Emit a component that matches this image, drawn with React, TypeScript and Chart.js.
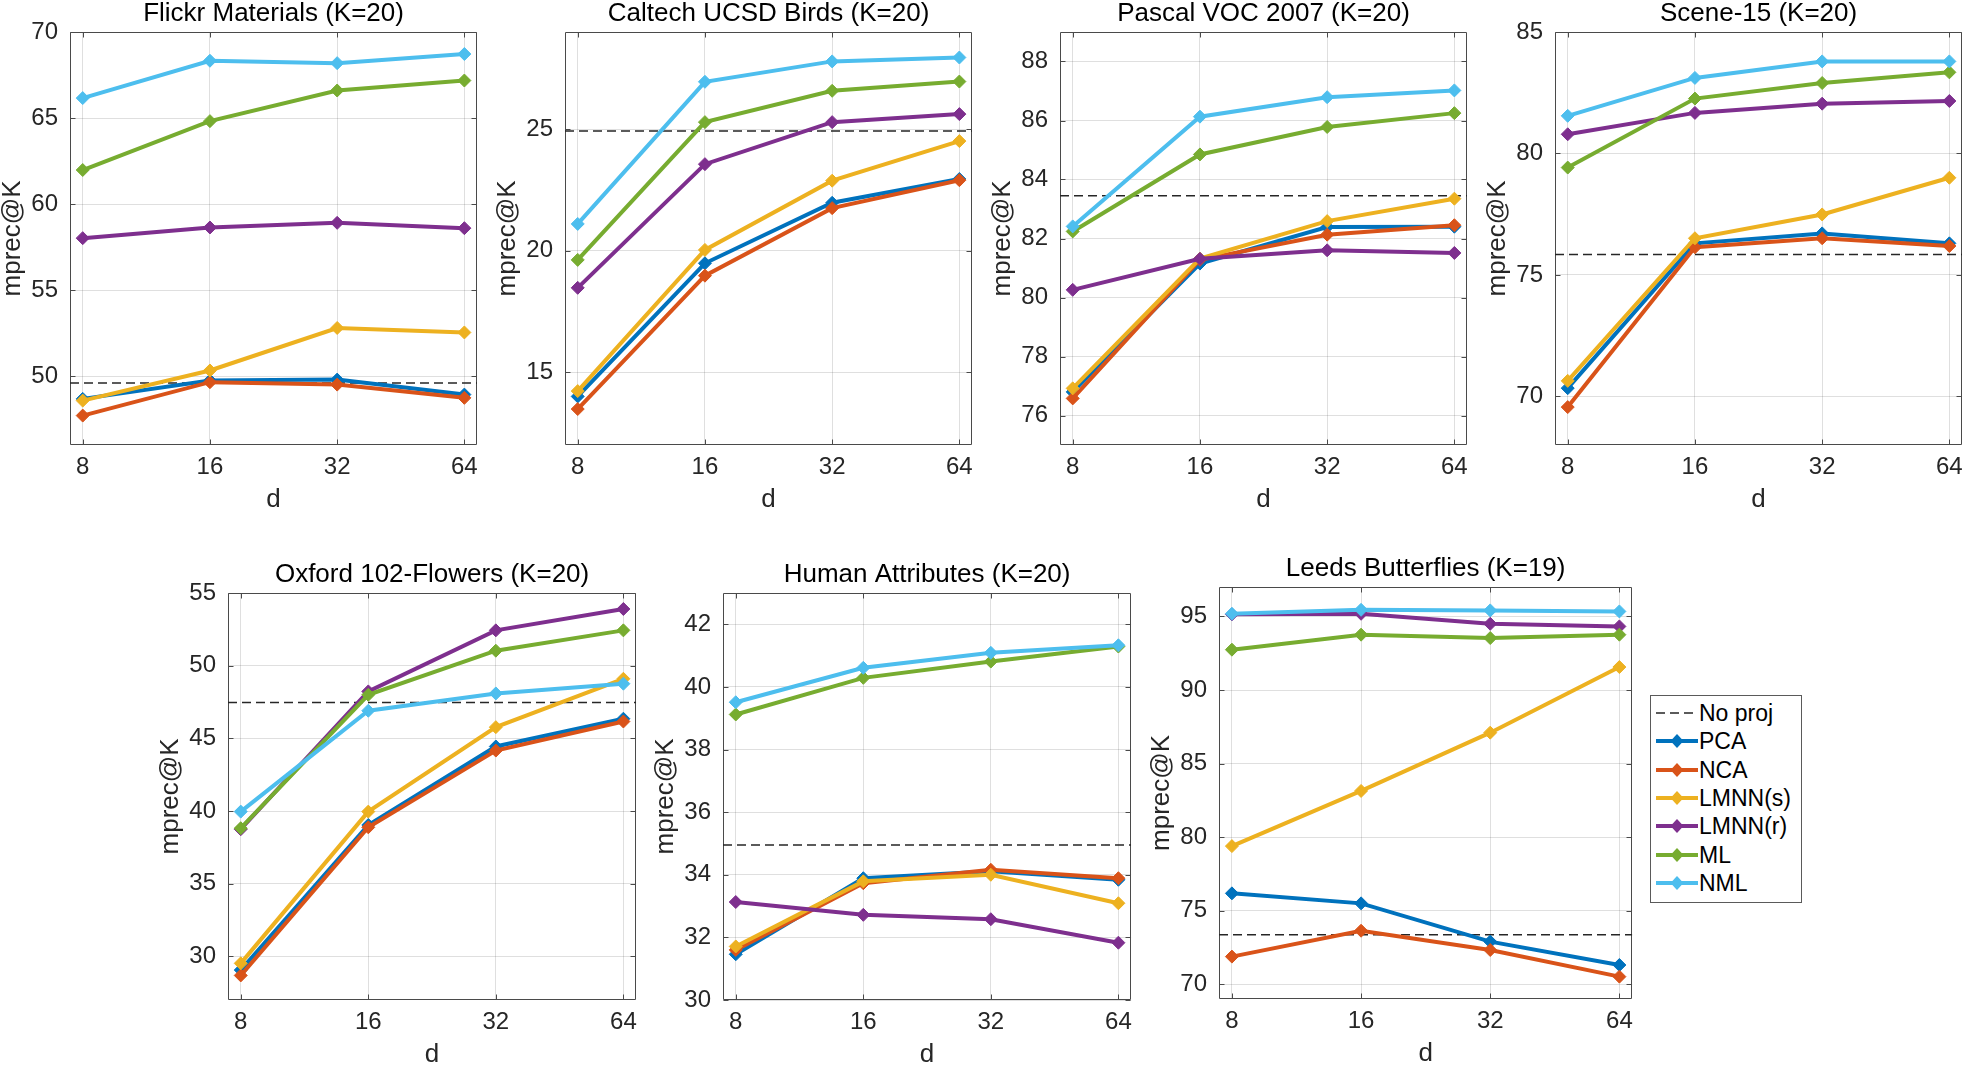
import React, { useEffect, useRef } from 'react';
import { Chart, registerables } from 'chart.js';

Chart.register(...registerables);

// ---------- data ----------
const dValues = [8, 16, 32, 64];
const methodNames = ['PCA', 'NCA', 'LMNN(s)', 'LMNN(r)', 'ML', 'NML'];
const noProjName = 'No proj';
const xLabel = 'd';
const yLabel = 'mprec@K';

// Flickr Materials
const flickrTicks = [50, 55, 60, 65, 70];
const flickrNoProj = 49.6;
const flickrPCA = [48.68, 49.75, 49.8, 48.93];
const flickrNCA = [47.71, 49.65, 49.51, 48.74];
const flickrLMNNs = [48.58, 50.33, 52.8, 52.54];
const flickrLMNNr = [58.02, 58.64, 58.91, 58.6];
const flickrML = [61.98, 64.82, 66.6, 67.18];
const flickrNML = [66.16, 68.33, 68.19, 68.72];

// Caltech UCSD Birds
const birdsTicks = [15, 20, 25];
const birdsNoProj = 24.92;
const birdsPCA = [14.0, 19.48, 21.97, 22.95];
const birdsNCA = [13.48, 18.97, 21.75, 22.9];
const birdsLMNNs = [14.22, 20.03, 22.88, 24.51];
const birdsLMNNr = [18.47, 23.56, 25.29, 25.62];
const birdsML = [19.62, 25.29, 26.58, 26.96];
const birdsNML = [21.1, 26.95, 27.79, 27.95];

// Pascal VOC 2007
const vocTicks = [76, 78, 80, 82, 84, 86, 88];
const vocNoProj = 83.45;
const vocPCA = [76.8, 81.15, 82.39, 82.4];
const vocNCA = [76.58, 81.28, 82.13, 82.45];
const vocLMNNs = [76.92, 81.32, 82.59, 83.35];
const vocLMNNr = [80.26, 81.31, 81.6, 81.51];
const vocML = [82.24, 84.85, 85.78, 86.25];
const vocNML = [82.41, 86.13, 86.79, 87.02];

// Scene-15
const sceneTicks = [70, 75, 80, 85];
const sceneNoProj = 75.84;
const scenePCA = [70.34, 76.3, 76.71, 76.3];
const sceneNCA = [69.56, 76.14, 76.51, 76.19];
const sceneLMNNs = [70.64, 76.51, 77.49, 79.0];
const sceneLMNNr = [80.79, 81.67, 82.05, 82.16];
const sceneML = [79.42, 82.26, 82.9, 83.34];
const sceneNML = [81.55, 83.11, 83.79, 83.79];

// Oxford 102-Flowers
const flowersTicks = [30, 35, 40, 45, 50, 55];
const flowersNoProj = 47.47;
const flowersPCA = [29.06, 39.04, 44.44, 46.35];
const flowersNCA = [28.69, 38.88, 44.16, 46.16];
const flowersLMNNs = [29.52, 39.96, 45.77, 49.1];
const flowersLMNNr = [38.75, 48.23, 52.43, 53.9];
const flowersML = [38.82, 48.0, 51.03, 52.43];
const flowersNML = [39.96, 46.9, 48.09, 48.76];

// Human Attributes
const humanTicks = [30, 32, 34, 36, 38, 40, 42];
const humanNoProj = 34.95;
const humanPCA = [31.46, 33.89, 34.11, 33.84];
const humanNCA = [31.6, 33.73, 34.16, 33.89];
const humanLMNNs = [31.71, 33.79, 34.0, 33.09];
const humanLMNNr = [33.13, 32.72, 32.58, 31.83];
const humanML = [39.12, 40.29, 40.81, 41.29];
const humanNML = [39.51, 40.61, 41.09, 41.33];

// Leeds Butterflies
const leedsTicks = [70, 75, 80, 85, 90, 95];
const leedsNoProj = 73.37;
const leedsPCA = [76.18, 75.5, 72.9, 71.31];
const leedsNCA = [71.88, 73.64, 72.33, 70.52];
const leedsLMNNs = [79.39, 83.14, 87.1, 91.56];
const leedsLMNNr = [95.14, 95.18, 94.5, 94.32];
const leedsML = [92.74, 93.76, 93.53, 93.76];
const leedsNML = [95.18, 95.45, 95.41, 95.34];

// ---------- styles / layout ----------
const FONT = "'Liberation Sans', Arial, Helvetica, sans-serif";
const methodColors = ['#0072BD', '#D95319', '#EDB120', '#7E2F8E', '#77AC30', '#4DBEEE'];
const GRID = 'rgba(38,38,38,0.15)';
const AXIS = '#4a4a4a';
const TEXT = '#262626';
const L = 70, T = 34, R = 8, B = 72;
const TITLE_TOP = 3;
const LINE_W = 4;
const MARKER_R = 6.5;

type Panel = {
  title: string;
  series: number[][];
  noProj: number;
  yMin: number;
  yMax: number;
  yTicks: number[];
  rect: { l: number; t: number; r: number; b: number };
};

const panels: Panel[] = [
  { title: 'Flickr Materials (K=20)', series: [flickrPCA, flickrNCA, flickrLMNNs, flickrLMNNr, flickrML, flickrNML], noProj: flickrNoProj, yMin: 46, yMax: 70, yTicks: flickrTicks, rect: { l: 70, t: 32, r: 478, b: 445 } },
  { title: 'Caltech UCSD Birds (K=20)', series: [birdsPCA, birdsNCA, birdsLMNNs, birdsLMNNr, birdsML, birdsNML], noProj: birdsNoProj, yMin: 12, yMax: 29, yTicks: birdsTicks, rect: { l: 565, t: 32, r: 973, b: 445 } },
  { title: 'Pascal VOC 2007 (K=20)', series: [vocPCA, vocNCA, vocLMNNs, vocLMNNr, vocML, vocNML], noProj: vocNoProj, yMin: 75, yMax: 89, yTicks: vocTicks, rect: { l: 1060, t: 32, r: 1468, b: 445 } },
  { title: 'Scene-15 (K=20)', series: [scenePCA, sceneNCA, sceneLMNNs, sceneLMNNr, sceneML, sceneNML], noProj: sceneNoProj, yMin: 68, yMax: 85, yTicks: sceneTicks, rect: { l: 1555, t: 32, r: 1963, b: 445 } },
  { title: 'Oxford 102-Flowers (K=20)', series: [flowersPCA, flowersNCA, flowersLMNNs, flowersLMNNr, flowersML, flowersNML], noProj: flowersNoProj, yMin: 27, yMax: 55, yTicks: flowersTicks, rect: { l: 228, t: 593, r: 637, b: 1000 } },
  { title: 'Human Attributes (K=20)', series: [humanPCA, humanNCA, humanLMNNs, humanLMNNr, humanML, humanNML], noProj: humanNoProj, yMin: 30, yMax: 43, yTicks: humanTicks, rect: { l: 723, t: 593, r: 1132, b: 1000 } },
  { title: 'Leeds Butterflies (K=19)', series: [leedsPCA, leedsNCA, leedsLMNNs, leedsLMNNr, leedsML, leedsNML], noProj: leedsNoProj, yMin: 69, yMax: 97, yTicks: leedsTicks, rect: { l: 1219, t: 587, r: 1633, b: 999 } },
];

const xMin = dValues[0] / Math.pow(2, 0.1);
const xMax = dValues[dValues.length - 1] * Math.pow(2, 0.1);

const boxPlugin = {
  id: 'matlabBox',
  beforeDatasetsDraw(chart: any) {
    const { ctx, chartArea: a, scales } = chart;
    const tl = 5;
    ctx.save();
    ctx.strokeStyle = AXIS;
    ctx.lineWidth = 1;
    ctx.beginPath();
    const L0 = Math.round(a.left) + 0.5, R0 = Math.round(a.right) - 0.5;
    const T0 = Math.round(a.top) + 0.5, B0 = Math.round(a.bottom) - 0.5;
    ctx.rect(L0, T0, R0 - L0, B0 - T0);
    scales.x.ticks.forEach((t: any) => {
      const px = Math.round(scales.x.getPixelForValue(t.value)) + 0.5;
      ctx.moveTo(px, B0); ctx.lineTo(px, B0 - tl);
      ctx.moveTo(px, T0); ctx.lineTo(px, T0 + tl);
    });
    scales.y.ticks.forEach((t: any) => {
      const py = Math.round(scales.y.getPixelForValue(t.value)) + 0.5;
      ctx.moveTo(L0, py); ctx.lineTo(L0 + tl, py);
      ctx.moveTo(R0, py); ctx.lineTo(R0 - tl, py);
    });
    ctx.stroke();
    ctx.restore();
  },
};

function PanelChart({ p }: { p: Panel }) {
  const ref = useRef<HTMLCanvasElement | null>(null);
  const w = L + (p.rect.r - p.rect.l) + R;
  const h = T + (p.rect.b - p.rect.t) + B;

  useEffect(() => {
    if (!ref.current) return;
    const datasets: any[] = p.series.map((vals, i) => ({
      label: methodNames[i],
      data: dValues.map((d, k) => ({ x: d, y: vals[k] })),
      borderColor: methodColors[i],
      backgroundColor: methodColors[i],
      pointBackgroundColor: methodColors[i],
      pointBorderColor: methodColors[i],
      borderWidth: LINE_W,
      pointStyle: 'rectRot',
      pointRadius: MARKER_R,
      pointBorderWidth: 1,
      tension: 0,
      order: methodNames.length - 1 - i,
    }));
    datasets.push({
      label: noProjName,
      data: [{ x: xMin, y: p.noProj }, { x: xMax, y: p.noProj }],
      borderColor: '#262626',
      borderWidth: 1.5,
      borderDash: [9, 5],
      pointRadius: 0,
      order: 10,
    });
    const chart = new Chart(ref.current, {
      type: 'line',
      data: { datasets },
      plugins: [boxPlugin],
      options: {
        responsive: false,
        animation: false,
        devicePixelRatio: 1,
        layout: { padding: { left: 0, right: R, top: TITLE_TOP, bottom: 0 } },
        plugins: {
          legend: { display: false },
          tooltip: { enabled: false },
          title: {
            display: true,
            text: p.title,
            fullSize: false,
            color: '#000',
            font: { family: FONT, size: 26, weight: 'normal', lineHeight: 1 },
            padding: { top: 0, bottom: T - 26 - TITLE_TOP },
          },
        },
        scales: {
          x: {
            type: 'logarithmic',
            min: xMin,
            max: xMax,
            afterBuildTicks: (s: any) => { s.ticks = dValues.map((v) => ({ value: v })); },
            afterFit: (s: any) => { s.height = B; },
            ticks: {
              callback: (v: any) => String(v),
              font: { family: FONT, size: 24, lineHeight: 1.2 },
              color: TEXT,
              padding: 8,
              autoSkip: false,
              maxRotation: 0,
            },
            grid: { color: GRID, drawTicks: false, lineWidth: 1 },
            border: { display: false },
            title: {
              display: true,
              text: xLabel,
              color: TEXT,
              font: { family: FONT, size: 26, lineHeight: 1 },
              padding: { top: 0, bottom: 4 },
            },
          },
          y: {
            type: 'linear',
            min: p.yMin,
            max: p.yMax,
            afterBuildTicks: (s: any) => { s.ticks = p.yTicks.map((v) => ({ value: v })); },
            afterFit: (s: any) => { s.width = L; },
            ticks: {
              font: { family: FONT, size: 24, lineHeight: 1.2 },
              color: TEXT,
              padding: 12,
            },
            grid: { color: GRID, drawTicks: false, lineWidth: 1 },
            border: { display: false },
            title: {
              display: true,
              text: yLabel,
              color: TEXT,
              font: { family: FONT, size: 26, lineHeight: 1 },
              padding: { top: 0, bottom: 0 },
            },
          },
        },
      } as any,
    });
    return () => chart.destroy();
  }, [p]);

  return (
    <canvas
      ref={ref}
      width={w}
      height={h}
      style={{ position: 'absolute', left: p.rect.l - L, top: p.rect.t - T, width: w, height: h, display: 'block' }}
    />
  );
}

function Legend() {
  const rows = [{ name: noProjName, color: '#262626', dashed: true }].concat(
    methodNames.map((n, i) => ({ name: n, color: methodColors[i], dashed: false }))
  );
  return (
    <div
      style={{
        position: 'absolute',
        left: 1650,
        top: 695,
        width: 150,
        height: 203,
        border: '1px solid #5a5a5a',
        background: '#fff',
        paddingTop: 3,
        boxSizing: 'content-box',
        fontFamily: FONT,
        fontSize: 23,
        color: '#000',
      }}
    >
      {rows.map((r) => (
        <div key={r.name} style={{ height: 28.33, display: 'flex', alignItems: 'center', whiteSpace: 'nowrap' }}>
          <svg width={48} height={28} style={{ display: 'block', flex: '0 0 auto' }}>
            {r.dashed ? (
              <line x1={5} y1={14} x2={47} y2={14} stroke={r.color} strokeWidth={1.5} strokeDasharray="9 5" />
            ) : (
              <g>
                <line x1={5} y1={14} x2={47} y2={14} stroke={r.color} strokeWidth={LINE_W} />
                <polygon points="26,7 32.5,14 26,21 19.5,14" fill={r.color} />
              </g>
            )}
          </svg>
          <span style={{ lineHeight: '28px' }}>{r.name}</span>
        </div>
      ))}
    </div>
  );
}

export default function App() {
  return (
    <div style={{ position: 'absolute', left: 0, top: 0, width: 1965, height: 1072, overflow: 'hidden', background: '#fff' }}>
      {panels.map((p) => (
        <PanelChart key={p.title} p={p} />
      ))}
      <Legend />
    </div>
  );
}
